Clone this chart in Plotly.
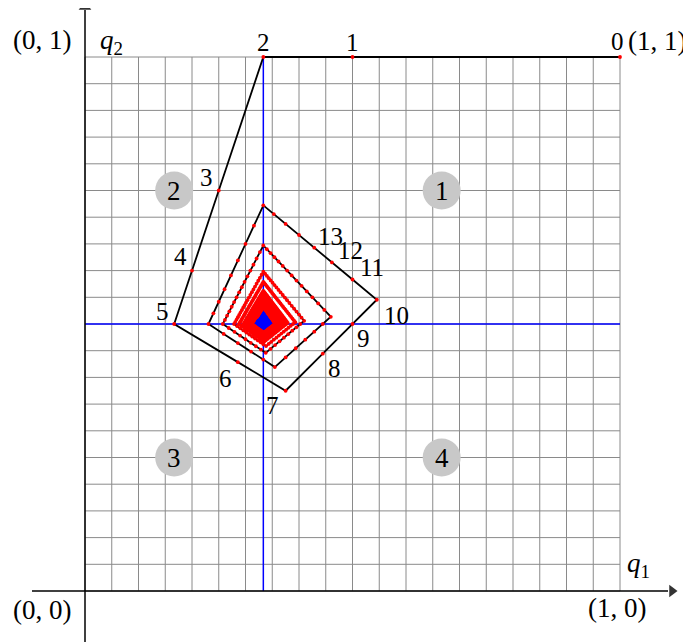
import numpy as np
import plotly.graph_objects as go

# page pixel -> data helpers (unit square: x 85..620 px, y 591..57 px)
# the page body has an 8px margin, so the figure itself is 8px smaller
X0, SX = 85, 535
Y0, SY = 591, 534
PAD = 8
W, H = 691 - PAD, 642 - PAD


def dx(px):
    return (px - X0) / SX


def dy(py):
    return (Y0 - py) / SY


eq_point = [1 / 3, 1 / 2]
start_action = [1, 1]
n_steps = 1000

# run lengths of each player's pure action (alternating, first run = action 1)
runs_p1 = [1, 5, 5, 15, 11, 29, 17, 39, 23, 53, 29, 63, 35, 77, 41, 87, 47, 101,
           53, 111, 59, 125, 65, 135, 71, 149, 77, 159]
runs_p2 = [3, 5, 10, 13, 20, 23, 28, 31, 38, 41, 46, 49, 56, 59, 64, 67, 74, 77,
           82, 85, 92, 95, 100, 103, 110, 113]


def expand(runs, first):
    out = []
    a = first
    for r in runs:
        out += [a] * r
        a = 1 - a
    return np.array(out[:n_steps])


acts1 = expand(runs_p1, start_action[0])
acts2 = expand(runs_p2, start_action[1])
steps = np.arange(1, n_steps + 1)
qx = np.cumsum(acts1) / steps
qy = np.cumsum(acts2) / steps

fig = go.Figure()

ticks = np.linspace(0, 1, 21)
gx, gy = [], []
for t in ticks:
    gx += [t, t, None, 0, 1, None]
    gy += [0, 1, None, t, t, None]
fig.add_trace(go.Scatter(x=gx, y=gy, mode="lines",
                         line=dict(color="#8a8a8a", width=1), hoverinfo="skip"))

fig.add_trace(go.Scatter(x=[eq_point[0], eq_point[0], None, 0, 1],
                         y=[0, 1, None, eq_point[1], eq_point[1]], mode="lines",
                         line=dict(color="#0000ff", width=1.5)))

# axes with arrow heads
fig.add_trace(go.Scatter(x=[dx(32), dx(668), None, 0, 0],
                         y=[0, 0, None, dy(642), dy(10)], mode="lines",
                         line=dict(color="#000", width=1.5)))
fig.add_trace(go.Scatter(x=[dx(672), 0], y=[0, dy(7)], mode="markers",
                         marker=dict(symbol=["triangle-right", "triangle-up"],
                                     size=11, color="#333")))

# region circles
reg_x = [2 / 3, 1 / 6, 1 / 6, 2 / 3]
reg_y = [0.75, 0.75, 0.25, 0.25]
reg_lbl = ["1", "2", "3", "4"]
fig.add_trace(go.Scatter(x=reg_x, y=reg_y, mode="markers",
                         marker=dict(size=38, color="#c8c8c8")))
for lx, ly, lt in zip(reg_x, reg_y, reg_lbl):
    fig.add_annotation(x=lx, y=ly, text=lt, showarrow=False,
                       font=dict(family="Liberation Serif", size=27, color="#000"))

fig.add_trace(go.Scatter(x=[eq_point[0]], y=[eq_point[1] + 0.006], mode="markers",
                         marker=dict(symbol="diamond", size=20, color="#0000ff")))

fig.add_trace(go.Scatter(x=qx, y=qy, mode="lines",
                         line=dict(color="#000", width=1.8)))
fig.add_trace(go.Scatter(x=qx, y=qy, mode="markers",
                         marker=dict(size=3.8, color="#ff0000")))

num_labels = [("0", 617, 41), ("1", 352, 42), ("2", 263, 42), ("3", 206, 177),
              ("4", 180, 256), ("5", 162, 311), ("6", 225, 378), ("7", 272, 405),
              ("8", 334, 368), ("9", 363, 338), ("10", 396, 315), ("11", 372, 267),
              ("12", 350, 250), ("13", 330, 236)]
for txt, px, py in num_labels:
    fig.add_annotation(x=dx(px), y=dy(py), text=txt, showarrow=False,
                       font=dict(family="Liberation Serif", size=25, color="#000"))

corner_labels = [("(0, 1)", 42, 40), ("(1, 1)", 657, 41), ("(0, 0)", 42, 610),
                 ("(1, 0)", 617, 608), ("<i>q</i><sub>2</sub>", 111, 42),
                 ("<i>q</i><sub>1</sub>", 638, 565)]
for txt, px, py in corner_labels:
    fig.add_annotation(x=dx(px), y=dy(py), text=txt, showarrow=False,
                       font=dict(family="Liberation Serif", size=27, color="#000"))

fig.update_layout(width=W, height=H, margin=dict(l=0, r=0, t=0, b=0),
                  plot_bgcolor="white", paper_bgcolor="white", showlegend=False,
                  xaxis=dict(range=[dx(PAD), dx(691)], visible=False),
                  yaxis=dict(range=[dy(642), dy(PAD)], visible=False))

fig.write_html("out.html")
